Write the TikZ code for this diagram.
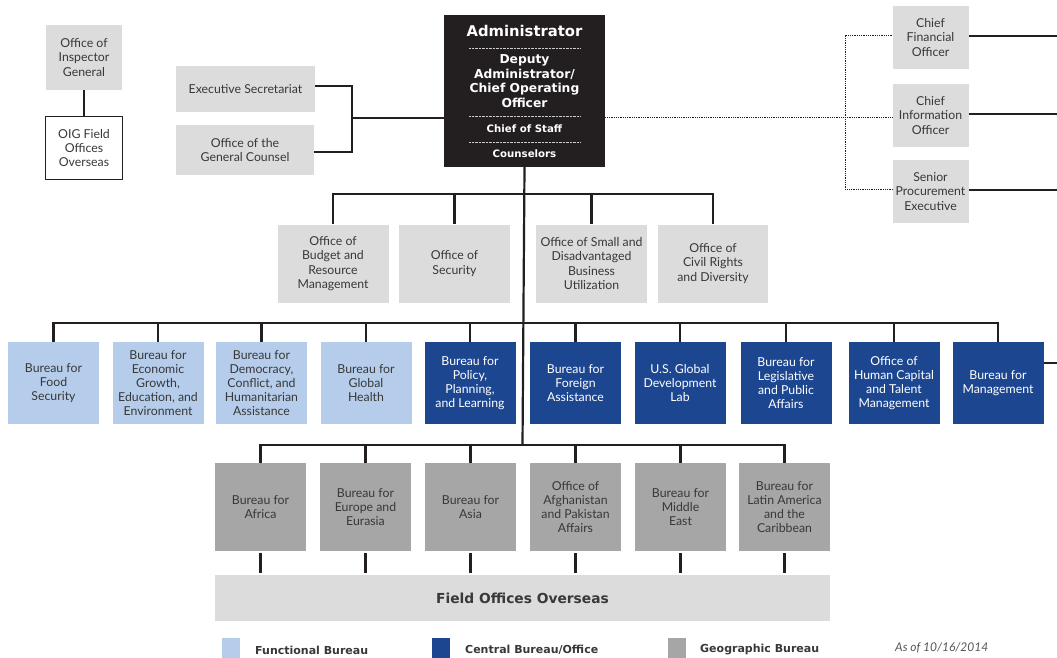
\documentclass[tikz,border=0pt]{standalone}
\usepackage{fontspec}
\setmainfont{Lato}
\newfontfamily\heavyfont{DejaVu Sans}
\usetikzlibrary{positioning}
\definecolor{officegray}{HTML}{DCDCDC}
\definecolor{funcblue}{HTML}{B5CDEA}
\definecolor{centralblue}{HTML}{1D4690}
\definecolor{geogray}{HTML}{A7A6A6}
\definecolor{adminblack}{HTML}{231F20}
\definecolor{textgray}{HTML}{383838}
\definecolor{dategray}{HTML}{555555}
\begin{document}
\begin{tikzpicture}[x=1pt,y=-1pt,
    box/.style={rectangle, inner sep=0pt, align=center, text=textgray,
      font=\fontsize{12.3}{14.2}\selectfont},
    office/.style={box, fill=officegray},
    functional/.style={box, fill=funcblue, minimum width=91pt, minimum height=82pt},
    central/.style={box, fill=centralblue, text=white, minimum width=91pt, minimum height=82pt},
    geographic/.style={box, fill=geogray, minimum width=91pt, minimum height=88pt},
    link/.style={draw=adminblack, line width=2.2pt},
    dotlink/.style={draw=adminblack, line width=0.9pt, dash pattern=on 0.9pt off 0.9pt},
    sepline/.style={draw=white!80!black, line width=0.6pt, dash pattern=on 0.7pt off 0.7pt},
    admintext/.style={text=white, align=center, inner sep=0pt},
    legendtext/.style={anchor=west, inner sep=0pt, text=textgray, font=\heavyfont\fontsize{11}{13}\bfseries\selectfont}]
    \useasboundingbox (0,0) rectangle (1057,658);

    % top left
    \node[office, minimum width=76pt, minimum height=65pt] (oig) at (84,57.5) {Office of\\Inspector\\General};
    \node[box, draw=adminblack, line width=1.2pt, fill=white, minimum width=77pt, minimum height=63pt] (oigfield) at (84,148) {OIG Field\\Offices\\Overseas};
    \node[office, minimum width=139pt, minimum height=46pt] (exsec) at (245.5,89) {Executive Secretariat};
    \node[office, minimum width=138pt, minimum height=50pt] (counsel) at (245,150) {Office of the\\General Counsel};

    % administrator block
    \node[rectangle, fill=adminblack, minimum width=161pt, minimum height=152pt] (admin) at (524.5,91) {};
    \node[admintext, font=\heavyfont\fontsize{14.8}{16}\bfseries\selectfont] (admtitle) at (524.5,31) {Administrator};
    \node[admintext, font=\heavyfont\fontsize{12.3}{14.5}\bfseries\selectfont] (deputy) at (524.5,81) {Deputy\\Administrator/\\Chief Operating\\Officer};
    \node[admintext, font=\heavyfont\fontsize{10.2}{12}\bfseries\selectfont] (staff) at (524.5,129) {Chief of Staff};
    \node[admintext, font=\heavyfont\fontsize{10.2}{12}\bfseries\selectfont] (counselors) at (524.5,154) {Counselors};
    \draw[sepline] (469,48) -- (580,48);
    \draw[sepline] (469,116) -- (580,116);
    \draw[sepline] (469,142) -- (580,142);

    % chief officers
    \node[office, minimum width=76pt, minimum height=63pt] (cfo) at (930.5,37.5) {Chief\\Financial\\Officer};
    \node[office, minimum width=76pt, minimum height=63pt] (cio) at (930.5,115.5) {Chief\\Information\\Officer};
    \node[office, minimum width=76pt, minimum height=63pt] (spe) at (930.5,191.5) {Senior\\Procurement\\Executive};

    % offices under the administrator
    \node[office, minimum width=111pt, minimum height=78pt] (budget) at (333,263.5) {Office of\\Budget and\\Resource\\Management};
    \node[office, minimum width=111pt, minimum height=78pt] (security) at (454.5,263.5) {Office of\\Security};
    \node[office, minimum width=111pt, minimum height=78pt] (smallbiz) at (591.5,263.5) {Office of Small and\\Disadvantaged\\Business\\Utilization};
    \node[office, minimum width=110pt, minimum height=78pt] (civil) at (713,263.5) {Office of\\Civil Rights\\and Diversity};

    % bureaus
    \node[functional] (food) at (53.5,383) {Bureau for\\Food\\Security};
    \node[functional] (econ) at (158,383) {Bureau for\\Economic\\Growth,\\Education, and\\Environment};
    \node[functional] (democracy) at (261.5,383) {Bureau for\\Democracy,\\Conflict, and\\Humanitarian\\Assistance};
    \node[functional] (health) at (366,383) {Bureau for\\Global\\Health};
    \node[central] (policy) at (470,383) {Bureau for\\Policy,\\Planning,\\and Learning};
    \node[central] (foreign) at (575.5,383) {Bureau for\\Foreign\\Assistance};
    \node[central] (lab) at (680,383) {U.S. Global\\Development\\Lab};
    \node[central] (legis) at (786,383) {Bureau for\\Legislative\\and Public\\Affairs};
    \node[central] (hcap) at (894,383) {Office of\\Human Capital\\and Talent\\Management};
    \node[central] (mgmt) at (998,383) {Bureau for\\Management};

    % geographic bureaus
    \node[geographic] (africa) at (260.5,507) {Bureau for\\Africa};
    \node[geographic] (europe) at (365.5,507) {Bureau for\\Europe and\\Eurasia};
    \node[geographic] (asia) at (470.5,507) {Bureau for\\Asia};
    \node[geographic] (afpak) at (575.5,507) {Office of\\Afghanistan\\and Pakistan\\Affairs};
    \node[geographic] (mideast) at (680.5,507) {Bureau for\\Middle\\East};
    \node[geographic] (latam) at (784.5,507) {Bureau for\\Latin America\\and the\\Caribbean};
    \node[box, fill=officegray, minimum width=615pt, minimum height=46pt, font=\heavyfont\fontsize{13.8}{15}\bfseries\selectfont] (field) at (522.5,598) {Field Offices Overseas};

    % legend
    \node[rectangle, fill=funcblue, minimum width=18pt, minimum height=20pt, inner sep=0pt] (keyfunc) at (231,648) {};
    \node[legendtext] (keyfunctext) at (255,650) {Functional Bureau};
    \node[rectangle, fill=centralblue, minimum width=18pt, minimum height=20pt, inner sep=0pt] (keycent) at (441,648) {};
    \node[legendtext] (keycenttext) at (465,650) {Central Bureau/Office};
    \node[rectangle, fill=geogray, minimum width=18pt, minimum height=20pt, inner sep=0pt] (keygeo) at (677,648) {};
    \node[legendtext] (keygeotext) at (700,650) {Geographic Bureau};
    \node[anchor=west, inner sep=0pt, text=dategray, font=\fontsize{12}{13}\itshape\selectfont] (asof) at (895,648) {As of 10/16/2014};

    % junctions
    \coordinate (lbr) at (352,118);
    \coordinate (djoin) at (845,117);
    \coordinate (obus) at (522.5,194);
    \coordinate (bbus) at (522.5,323);
    \coordinate (gbus) at (522.5,445);
    \coordinate (cfoout) at (1057,36);
    \coordinate (cioout) at (1057,114);
    \coordinate (speout) at (1057,190);
    \coordinate (mgmtout) at (1057,363);

    % inspector general to its field offices
    \draw[draw=adminblack, line width=2pt] (oig) -- (oigfield);
    % bracket to the administrator
    \draw[link] (exsec.east |- 0,86) -| (lbr) |- (counsel.east |- 0,152);
    \draw[link] (lbr) -- (admin.west |- lbr);
    % dotted lines to the chief officers
    \draw[dotlink] (admin.east |- djoin) -- (djoin);
    \draw[dotlink] (cfo.west |- 0,35) -| (djoin) |- (spe.west |- 0,189);
    \draw[dotlink] (djoin) -- (cio.west |- djoin);
    \draw[link] (cfo.east |- cfoout) -- (cfoout);
    \draw[link] (cio.east |- cioout) -- (cioout);
    \draw[link] (spe.east |- speout) -- (speout);
    % trunk
    \draw[link] (admin.south) -- (gbus);
    % offices
    \draw[link] (obus) -| (budget.north);
    \draw[link] (obus) -| (security.north);
    \draw[link] (obus) -| (smallbiz.north);
    \draw[link] (obus) -| (civil.north);
    % bureaus
    \draw[link] (bbus) -| (food.north);
    \draw[link] (bbus) -| (econ.north);
    \draw[link] (bbus) -| (democracy.north);
    \draw[link] (bbus) -| (health.north);
    \draw[link] (bbus) -| (policy.north);
    \draw[link] (bbus) -| (foreign.north);
    \draw[link] (bbus) -| (lab.north);
    \draw[link] (bbus) -| (legis.north);
    \draw[link] (bbus) -| (hcap.north);
    \draw[link] (bbus) -| (mgmt.north);
    \draw[link] (mgmt.east |- mgmtout) -- (mgmtout);
    % geographic bureaus
    \draw[link] (gbus) -| (africa.north);
    \draw[link] (gbus) -| (europe.north);
    \draw[link] (gbus) -| (asia.north);
    \draw[link] (gbus) -| (afpak.north);
    \draw[link] (gbus) -| (mideast.north);
    \draw[link] (gbus) -| (latam.north);
    % down to the field offices
    \draw[link, shorten <=2pt, shorten >=2pt] (africa.south) -- (africa.south |- field.north);
    \draw[link, shorten <=2pt, shorten >=2pt] (europe.south) -- (europe.south |- field.north);
    \draw[link, shorten <=2pt, shorten >=2pt] (asia.south) -- (asia.south |- field.north);
    \draw[link, shorten <=2pt, shorten >=2pt] (afpak.south) -- (afpak.south |- field.north);
    \draw[link, shorten <=2pt, shorten >=2pt] (mideast.south) -- (mideast.south |- field.north);
    \draw[link, shorten <=2pt, shorten >=2pt] (latam.south) -- (latam.south |- field.north);
\end{tikzpicture}
\end{document}
